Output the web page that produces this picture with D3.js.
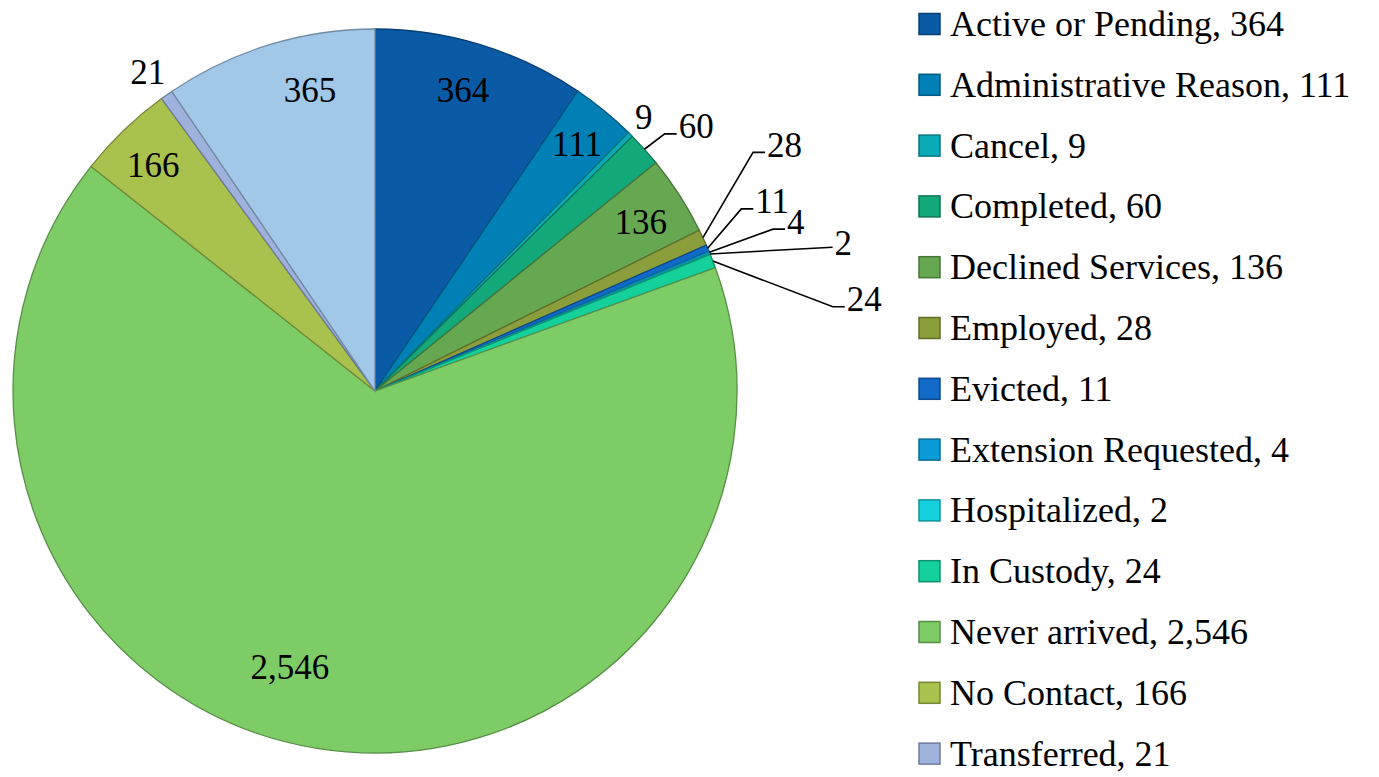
<!DOCTYPE html>
<html>
<head>
<meta charset="utf-8">
<script src="https://cdn.jsdelivr.net/npm/d3@7"></script>
<style>
  html, body { margin: 0; padding: 0; background: #fff; }
  svg { display: block; }
  text { font-family: "Liberation Serif", "DejaVu Serif", serif; fill: #000; }
</style>
</head>
<body>
<div id="chart"></div>
<script>
// categories in clockwise order from 12 o'clock
const categories = [
  "Active or Pending", "Administrative Reason", "Cancel", "Completed",
  "Declined Services", "Employed", "Evicted", "Extension Requested",
  "Hospitalized", "In Custody", "Never arrived", "No Contact",
  "Transferred", ""
];
const values = [364, 111, 9, 60, 136, 28, 11, 4, 2, 24, 2546, 166, 21, 365];
const colors = [
  "#0b5aa6", "#0180b6", "#0aaab6", "#13a97b", "#66a851", "#8a9e3b",
  "#1169c8", "#0b9bd8", "#14d1dd", "#14d19b", "#7ecc65", "#a9c24d",
  "#9fb1dd", "#a2c8e9"
];
// label layout: angle shift (deg) from slice middle, radius factor
const labelPlace = [
  { shift: -0.7, k: 0.865 },
  { shift: 0.1, k: 0.88 },
  { shift: -0.4, k: 1.06 },
  { shift: 0.3, k: 1.07, leader: true },
  { shift: 0.3, k: 0.87 },
  { shift: -7.2, k: 1.235, leader: true },
  { shift: -3.2, k: 1.13, leader: true },
  { shift: 0.4, k: 1.187, leader: true },
  { shift: 4.8, k: 1.325, leader: true, noTail: true },
  { shift: 10.6, k: 1.286, leader: true },
  { shift: 7.9, k: 0.8 },
  { shift: -0.7, k: 0.873 },
  { shift: -0.4, k: 1.08 },
  { shift: 4.9, k: 0.85 }
];
const legendCount = 13;

const W = 1379, H = 777;
const cx = 375, cy = 391, r = 362;

const svg = d3.select("#chart").append("svg")
  .attr("width", W).attr("height", H);

const g = svg.append("g").attr("transform", `translate(${cx},${cy})`);

const pie = d3.pie().sort(null).value(d => d)(values);
const arc = d3.arc().innerRadius(0).outerRadius(r);

g.selectAll("path.slice")
  .data(pie)
  .join("path")
  .attr("class", "slice")
  .attr("d", arc)
  .attr("fill", (d, i) => colors[i])
  .attr("stroke", (d, i) => d3.color(colors[i]).darker(1).formatHex())
  .attr("stroke-width", 1.3);

const fmt = d3.format(",");
const polar = (a, rad) => [Math.sin(a) * rad, -Math.cos(a) * rad];

pie.forEach((d, i) => {
  const p = labelPlace[i];
  const mid = (d.startAngle + d.endAngle) / 2;
  const a = mid + p.shift * Math.PI / 180;
  const [lx, ly] = polar(a, r * p.k);
  let tx = lx, ty = ly, anchor = "middle";
  if (p.leader) {
    const [sx, sy] = polar(mid, r);
    const pts = [[sx, sy], [lx, ly]];
    if (!p.noTail) pts.push([lx + 12, ly]);
    g.append("polyline")
      .attr("points", pts.map(q => q.join(",")).join(" "))
      .attr("fill", "none")
      .attr("stroke", "#000")
      .attr("stroke-width", 1.6);
    tx = pts[pts.length - 1][0] + 2;
    ty = ly - (p.noTail ? 4 : 7);
    anchor = "start";
  }
  g.append("text")
    .attr("x", tx)
    .attr("y", ty)
    .attr("text-anchor", anchor)
    .attr("dominant-baseline", "central")
    .attr("font-size", 35)
    .text(fmt(values[i]));
});

// legend
const legend = svg.append("g").attr("transform", "translate(919,24)");
const rows = legend.selectAll("g")
  .data(categories.slice(0, legendCount))
  .join("g")
  .attr("transform", (d, i) => `translate(0,${i * 60.8})`);

rows.append("rect")
  .attr("x", 0).attr("y", -10.5)
  .attr("width", 21).attr("height", 21)
  .attr("fill", (d, i) => colors[i])
  .attr("stroke", (d, i) => d3.color(colors[i]).darker(1).formatHex())
  .attr("stroke-width", 1.5);

rows.append("text")
  .attr("x", 31)
  .attr("y", 0)
  .attr("dominant-baseline", "central")
  .attr("font-size", 36)
  .text((d, i) => `${d}, ${fmt(values[i])}`);
</script>
</body>
</html>
